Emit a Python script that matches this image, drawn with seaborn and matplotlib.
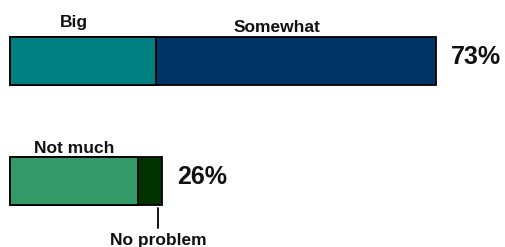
import pandas as pd
import matplotlib
matplotlib.use("Agg")
import matplotlib.pyplot as plt
import seaborn as sns

# two stacked bars: first segment + second segment = total
rows = ["Problem", "No problem"]
first_labels = ["Big", "Not much"]
second_labels = ["Somewhat", "No problem"]
first_vals = [25, 22]
second_vals = [48, 4]
first_colors = ["#008080", "#339966"]
second_colors = ["#003366", "#003300"]

totals = [a + b for a, b in zip(first_vals, second_vals)]
df = pd.DataFrame({"row": rows, "first": first_vals, "total": totals})

sns.set_theme(style="white")
plt.rcParams["font.family"] = ["Liberation Sans", "DejaVu Sans"]

fig = plt.figure(figsize=(5.05, 2.47), dpi=100)
ax = fig.add_axes([0, 0, 1, 1])

bar_w = 0.4
sns.barplot(data=df, x="total", y="row", hue="row", palette=second_colors,
            orient="h", width=bar_w, edgecolor="black", linewidth=1.3,
            saturation=1, legend=False, ax=ax)
sns.barplot(data=df, x="first", y="row", hue="row", palette=first_colors,
            orient="h", width=bar_w, edgecolor="black", linewidth=1.3,
            saturation=1, legend=False, ax=ax)

ax.set_xlim(-1.71, 84.8)
ax.set_ylim(1.55, -0.508)
ax.axis("off")

txt = dict(fontsize=12.5, fontweight="bold", color="#111111")
half = bar_w / 2

# top bar segment labels
ax.text(first_vals[0] / 2 - 1.5, -half - 0.08, first_labels[0],
        ha="center", va="baseline", **txt)
ax.text(first_vals[0] + second_vals[0] / 2 - 3.3, -half - 0.04, second_labels[0],
        ha="center", va="baseline", **txt)

# bottom bar labels
ax.text(first_vals[1] / 2, 1 - half - 0.035, first_labels[1],
        ha="center", va="baseline", **txt)
tick_x = totals[1] - 0.6
ax.plot([tick_x, tick_x], [1 + half + 0.025, 1 + half + 0.19],
        color="black", linewidth=1.3)
ax.text(tick_x, 1 + half + 0.33, second_labels[1],
        ha="center", va="baseline", **txt)

# totals
for i, t in enumerate(totals):
    ax.text(t + 2.6, i - 0.035, f"{t}%", ha="left", va="center",
            fontsize=18, fontweight="bold", color="#111111")

fig.savefig("out.png", dpi=100)
